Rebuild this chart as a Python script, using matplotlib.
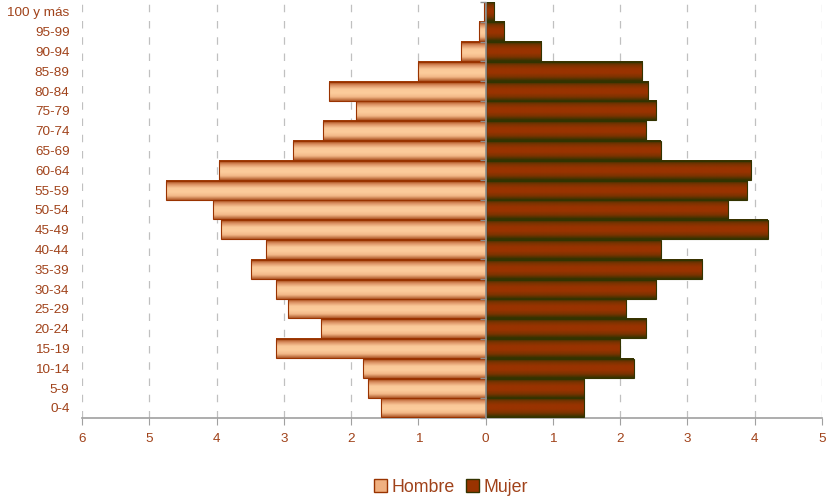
import numpy as np
import matplotlib
matplotlib.use("Agg")
import matplotlib.pyplot as plt
from matplotlib.colors import LinearSegmentedColormap
from matplotlib.patches import Patch

plt.rcParams['font.family'] = ['Liberation Sans', 'DejaVu Sans']

grupos = ["0-4", "5-9", "10-14", "15-19", "20-24", "25-29", "30-34", "35-39",
          "40-44", "45-49", "50-54", "55-59", "60-64", "65-69", "70-74",
          "75-79", "80-84", "85-89", "90-94", "95-99", "100 y más"]
hombre = [1.56, 1.75, 1.83, 3.12, 2.45, 2.94, 3.12, 3.49, 3.27, 3.94, 4.06,
          4.75, 3.97, 2.87, 2.42, 1.93, 2.33, 1.00, 0.37, 0.10, 0.02]
mujer = [1.46, 1.46, 2.20, 2.00, 2.38, 2.08, 2.53, 3.22, 2.60, 4.19, 3.60,
         3.89, 3.94, 2.60, 2.38, 2.53, 2.41, 2.33, 0.82, 0.27, 0.12]
xticks = list(range(-6, 6))

marron = '#A0421A'
cm_h = LinearSegmentedColormap.from_list('h', ['#993300', '#D98E60', '#FAC898', '#FCCC9C', '#F2B888', '#B05A2A'])
cm_m = LinearSegmentedColormap.from_list('m', ['#333300', '#7A3300', '#993300', '#993300', '#7A3300', '#333300'])
grad = np.linspace(0, 1, 64).reshape(-1, 1)

fig = plt.figure(figsize=(8.32, 5.01), dpi=100)
ax = fig.add_axes([0.0986, 0.166, 0.8894, 0.83])

y = np.arange(len(grupos))
alto = 0.96
bh = ax.barh(y, [-v for v in hombre], height=alto, facecolor='none', edgecolor='#993300', lw=0.8, zorder=4)
bm = ax.barh(y, mujer, height=alto, facecolor='none', edgecolor='#333300', lw=0.8, zorder=4)
for barras, cm in ((bh, cm_h), (bm, cm_m)):
    for r in barras:
        x0, y0 = r.get_x(), r.get_y()
        x1, y1 = x0 + r.get_width(), y0 + r.get_height()
        ax.imshow(grad, extent=[min(x0, x1), max(x0, x1), y0, y1], origin='upper',
                  aspect='auto', cmap=cm, zorder=3, interpolation='bilinear')

for xv in xticks:
    ax.axvline(xv, color='#C0C0C0', lw=0.9, ls=(0, (6, 7)), zorder=1)
ax.axvline(0, color='#909090', lw=1.2, zorder=5)
ax.plot(np.zeros(len(grupos) + 1), np.arange(len(grupos) + 1) - 0.5, ls='none',
        marker=0, color='#909090', ms=4, mew=1, zorder=5, clip_on=False)

ax.set_xlim(-6, 5)
ax.set_ylim(-0.5, 20.5)
ax.set_yticks(y)
ax.set_yticklabels(grupos, color=marron, fontsize=9.7)
ax.tick_params(axis='y', length=0, pad=9)
ax.set_xticks(xticks)
ax.set_xticklabels([str(abs(v)) for v in xticks], color=marron, fontsize=9.7)
ax.tick_params(axis='x', length=5, color='#A0A0A0', pad=6)
for s in ('top', 'right', 'left'):
    ax.spines[s].set_visible(False)
ax.spines['bottom'].set_color('#A0A0A0')
ax.spines['bottom'].set_linewidth(1.2)

handles = [Patch(facecolor='#F0B080', edgecolor='#993300', label='Hombre'),
           Patch(facecolor='#993300', edgecolor='#333300', label='Mujer')]
leg = fig.legend(handles=handles, loc='center', bbox_to_anchor=(0.542, 0.027), ncol=2,
                 frameon=False, fontsize=12.8, handlelength=0.75, handleheight=0.75,
                 handletextpad=0.25, columnspacing=0.6)
for t in leg.get_texts():
    t.set_color(marron)

fig.savefig('out.png', dpi=100)
